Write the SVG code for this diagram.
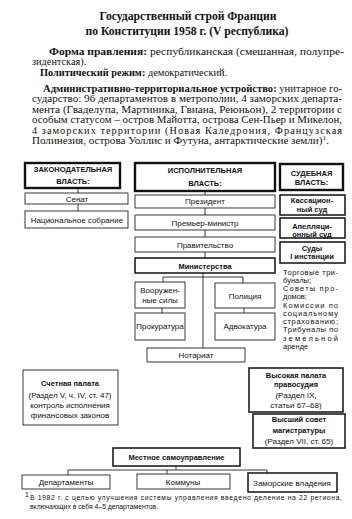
<svg xmlns="http://www.w3.org/2000/svg" width="352" height="519" viewBox="0 0 352 519">
<style>
.bg{fill:#fff}
.t{font-family:"Liberation Serif","Times New Roman",serif;font-size:10.3px;fill:#111}
.tt{font-family:"Liberation Serif","Times New Roman",serif;font-size:12.5px;font-weight:bold;fill:#111;text-anchor:middle}
.b{font-weight:bold}
.box{fill:#fff;stroke:#222;stroke-width:0.9}
.hbox{fill:#fff;stroke:#111;stroke-width:2.4}
.mbox{fill:#fff;stroke:#111;stroke-width:1.5}
.l{font-family:"Liberation Sans",Arial,sans-serif;font-size:8px;fill:#111;text-anchor:middle}
.h{font-family:"Liberation Sans",Arial,sans-serif;font-size:7.5px;font-weight:bold;fill:#111;text-anchor:middle}
.s{font-family:"Liberation Sans",Arial,sans-serif;font-size:7.5px;fill:#111}
.f{font-family:"Liberation Sans",Arial,sans-serif;font-size:6.8px;fill:#111}
.c{stroke:#222;stroke-width:0.9;fill:none}
</style>
<rect class="bg" x="0" y="0" width="352" height="519"/>

<g id="title">
<text class="tt" x="188" y="20" textLength="177" lengthAdjust="spacingAndGlyphs">Государственный строй Франции</text>
<text class="tt" x="187" y="35" textLength="203" lengthAdjust="spacingAndGlyphs">по Конституции 1958 г. (V республика)</text>
</g>

<g id="intro">
<text class="t" x="49" y="55" textLength="295" lengthAdjust="spacingAndGlyphs"><tspan class="b">Форма правления:</tspan> республиканская (смешанная, полупре-</text>
<text class="t" x="32" y="65">зидентская).</text>
<text class="t" x="40" y="75.5"><tspan class="b">Политический режим:</tspan> демократический.</text>
<text class="t" x="43" y="91.5" textLength="299" lengthAdjust="spacingAndGlyphs"><tspan class="b">Административно-территориальное устройство:</tspan> унитарное го-</text>
<text class="t" x="32" y="102" textLength="310" lengthAdjust="spacingAndGlyphs">сударство: 96 департаментов в метрополии, 4 заморских департа-</text>
<text class="t" x="32" y="112.5" textLength="310" lengthAdjust="spacingAndGlyphs">мента (Гваделупа, Мартиника, Гвиана, Реюньон), 2 территории с</text>
<text class="t" x="32" y="123" textLength="310" lengthAdjust="spacingAndGlyphs">особым статусом – остров Майотта, острова Сен-Пьер и Микелон,</text>
<text class="t" x="32" y="133.5" textLength="310" lengthAdjust="spacing">4 заморских территории (Новая Каледрония, Французская</text>
<text class="t" x="32" y="144" textLength="297" lengthAdjust="spacingAndGlyphs">Полинезия, острова Уоллис и Футуна, антарктические земли)<tspan font-size="7" dy="-4">1</tspan><tspan dy="4">.</tspan></text>
</g>

<g id="connectors">
<path class="c" d="M78 187V193M78 204V211"/>
<path class="c" d="M205 191V195M205 208V215M205 230V237M205 252V258"/>
<path class="c" d="M203 273V348M163 277H243M163 277V282M243 277V283M162 308V313M244 308V313"/>
<path class="c" d="M176 466V470M68 470H267M68 470V475M167 470V474M267 470V473"/>
</g>

<g id="legislative">
<rect class="hbox" x="25" y="163" width="95" height="25"/>
<text class="h" x="73" y="172">ЗАКОНОДАТЕЛЬНАЯ</text>
<text class="h" x="73" y="183.5">ВЛАСТЬ:</text>
</g>
<g id="senate">
<rect class="box" x="25" y="193" width="103" height="11"/>
<text class="l" x="77" y="201.5">Сенат</text>
</g>
<g id="national-assembly">
<rect class="box" x="25" y="211" width="103" height="17"/>
<text class="l" x="77" y="222.5">Национальное собрание</text>
</g>

<g id="executive">
<rect class="hbox" x="135" y="163" width="140" height="28"/>
<text class="h" x="205" y="173">ИСПОЛНИТЕЛЬНАЯ</text>
<text class="h" x="205" y="185.5">ВЛАСТЬ:</text>
</g>
<g id="president">
<rect class="box" x="135" y="195" width="140" height="13"/>
<text class="l" x="205" y="204">Президент</text>
</g>
<g id="prime-minister">
<rect class="box" x="135" y="215" width="140" height="15"/>
<text class="l" x="205" y="225.5">Премьер-министр</text>
</g>
<g id="government">
<rect class="box" x="135" y="237" width="140" height="15"/>
<text class="l" x="205" y="247.5">Правительство</text>
</g>
<g id="ministries">
<rect class="mbox" x="135" y="258" width="140" height="15"/>
<text class="h" x="205" y="268.5">Министерства</text>
</g>
<g id="armed-forces">
<rect class="box" x="135" y="282" width="50" height="26"/>
<text class="l" x="160" y="292.5">Вооружен-</text>
<text class="l" x="160" y="303">ные силы</text>
</g>
<g id="police">
<rect class="box" x="215" y="283" width="60" height="25"/>
<text class="l" x="245" y="298.5">Полиция</text>
</g>
<g id="prosecution">
<rect class="box" x="135" y="313" width="50" height="27"/>
<text class="l" x="160" y="329" font-size="7.6">Прокуратура</text>
</g>
<g id="advocacy">
<rect class="box" x="215" y="313" width="60" height="27"/>
<text class="l" x="245" y="329">Адвокатура</text>
</g>
<g id="notary">
<rect class="box" x="147" y="348" width="98" height="14"/>
<text class="l" x="196" y="358">Нотариат</text>
</g>

<g id="judicial">
<rect class="hbox" x="280" y="164" width="63" height="26"/>
<text class="h" x="311.5" y="175.5">СУДЕБНАЯ</text>
<text class="h" x="311.5" y="185">ВЛАСТЬ:</text>
</g>
<g id="cassation">
<rect class="mbox" x="280" y="195" width="65" height="20"/>
<text class="h" x="312" y="202.5">Кассацион-</text>
<text class="h" x="312" y="211.5">ный суд</text>
</g>
<g id="appeal">
<rect class="mbox" x="280" y="218" width="65" height="20"/>
<text class="h" x="312" y="229">Апелляци-</text>
<text class="h" x="312" y="236.5">онный суд</text>
</g>
<g id="first-instance">
<rect class="mbox" x="280" y="242" width="65" height="21"/>
<text class="h" x="312" y="250.5">Суды</text>
<text class="h" x="312" y="259">I инстанции</text>
</g>
<g id="special-courts">
<text class="s" x="283" y="274.5" textLength="55" lengthAdjust="spacing">Торговые три-</text>
<text class="s" x="283" y="282.5">буналы;</text>
<text class="s" x="283" y="290.5" textLength="55" lengthAdjust="spacing">Советы про-</text>
<text class="s" x="283" y="298.5">домов;</text>
<text class="s" x="283" y="307.5" textLength="55" lengthAdjust="spacing">Комиссии по</text>
<text class="s" x="283" y="315.5" textLength="55" lengthAdjust="spacing">социальному</text>
<text class="s" x="283" y="323.5" textLength="55" lengthAdjust="spacing">страхованию;</text>
<text class="s" x="283" y="331.5" textLength="55" lengthAdjust="spacing">Трибуналы по</text>
<text class="s" x="283" y="340.5" textLength="55" lengthAdjust="spacing">земельной</text>
<text class="s" x="283" y="348.5">аренде</text>
</g>

<g id="court-of-audit">
<rect class="box" x="23" y="370" width="95" height="55"/>
<text class="h" x="70" y="385.5">Счетная палата</text>
<text class="l" x="70" y="397.5">(Раздел V, ч. IV, ст. 47)</text>
<text class="l" x="70" y="407.5">контроль исполнения</text>
<text class="l" x="70" y="417.5">финансовых законов</text>
</g>
<g id="high-court">
<rect class="mbox" x="249" y="368" width="94" height="44"/>
<text class="h" x="296" y="377.5">Высокая палата</text>
<text class="h" x="296" y="386.5">правосудия</text>
<text class="l" x="296" y="397.5">(Раздел IX,</text>
<text class="l" x="296" y="407.5">статьи 67–68)</text>
</g>
<g id="magistracy-council">
<rect class="mbox" x="253" y="414" width="92" height="34"/>
<text class="h" x="299" y="422">Высший совет</text>
<text class="h" x="299" y="433">магистратуры</text>
<text class="l" x="299" y="444">(Раздел VII, ст. 65)</text>
</g>

<g id="local-government">
<rect class="mbox" x="113" y="448" width="127" height="18"/>
<text class="h" x="176.5" y="460">Местное самоуправление</text>
</g>
<g id="departments">
<rect class="box" x="22" y="475" width="88" height="14"/>
<text class="l" x="66" y="485">Департаменты</text>
</g>
<g id="communes">
<rect class="box" x="137" y="474" width="93" height="15"/>
<text class="l" x="183" y="484.5">Коммуны</text>
</g>
<g id="overseas">
<rect class="mbox" x="248" y="473" width="89" height="19"/>
<text class="l" x="292" y="485.5">Заморские владения</text>
</g>

<g id="footnote">
<text class="f" x="25" y="497" font-size="5">1</text>
<text class="f" x="30" y="500" textLength="312" lengthAdjust="spacing">В 1982 г. с целью улучшения системы управления введено деление на 22 региона,</text>
<text class="f" x="30" y="509">включающих в себя 4–5 департаментов.</text>
</g>
</svg>
